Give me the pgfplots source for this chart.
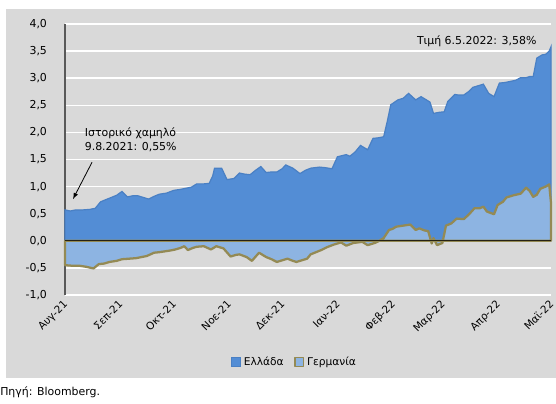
\documentclass[border=0pt]{standalone}
\usepackage{pgfplots}
\pgfplotsset{compat=1.18}
\usepackage{pgfplotstable}
\usepackage{fontspec}
\setmainfont{DejaVu Sans}
\definecolor{bg}{HTML}{D9D9D9}
\definecolor{grc}{HTML}{538DD5}
\definecolor{grcedge}{HTML}{4A80C4}
\definecolor{ger}{HTML}{8DB4E2}
\definecolor{gerline}{HTML}{948A54}
\definecolor{axisgray}{HTML}{595959}

\pgfplotstableread{
x y
0 0.57
3 0.55
6 0.57
10 0.57
14 0.58
17 0.60
20 0.72
23 0.76
26 0.80
29 0.84
32 0.91
35 0.81
38 0.83
41 0.83
44 0.80
47 0.77
50 0.82
53 0.86
57 0.88
61 0.93
65 0.95
68 0.97
71 0.99
74 1.05
78 1.05
81 1.06
83 1.20
84 1.34
88 1.34
91 1.13
95 1.15
98 1.25
101 1.23
104 1.22
107 1.30
110 1.37
113 1.26
116 1.27
119 1.27
122 1.33
124 1.40
128 1.34
132 1.24
135 1.30
138 1.34
143 1.36
146 1.35
150 1.33
153 1.55
158 1.59
160 1.56
163 1.64
166 1.76
170 1.68
173 1.89
176 1.90
179 1.92
181 2.20
183 2.51
187 2.60
190 2.63
193 2.72
197 2.60
200 2.66
203 2.60
205 2.56
207 2.35
210 2.37
213 2.38
215 2.57
219 2.70
221 2.69
224 2.69
227 2.76
229 2.83
232 2.86
235 2.89
238 2.72
241 2.66
244 2.91
247 2.92
250 2.94
253 2.96
256 3.01
259 3.01
261 3.03
263 3.03
265 3.37
268 3.43
270 3.44
272 3.50
273 3.58
}\greece

\pgfplotstableread{
x y
0 -0.45
4 -0.46
8 -0.46
12 -0.48
16 -0.51
19 -0.43
22 -0.42
25 -0.39
29 -0.37
32 -0.34
36 -0.33
40 -0.32
43 -0.30
46 -0.28
50 -0.22
53 -0.21
55 -0.20
59 -0.18
62 -0.16
65 -0.13
67 -0.10
69 -0.17
72 -0.13
74 -0.11
78 -0.10
82 -0.16
85 -0.10
89 -0.14
93 -0.29
96 -0.26
98 -0.25
102 -0.30
105 -0.37
109 -0.22
113 -0.30
116 -0.34
119 -0.39
122 -0.36
125 -0.33
128 -0.37
130 -0.39
133 -0.36
136 -0.33
138 -0.25
141 -0.21
144 -0.17
147 -0.12
151 -0.07
155 -0.03
158 -0.09
162 -0.04
167 -0.02
170 -0.08
174 -0.04
176 -0.01
179 0.05
182 0.20
184 0.22
186 0.26
190 0.28
194 0.30
197 0.20
199 0.23
202 0.19
204 0.18
206 -0.05
207 0.05
209 -0.08
212 -0.04
214 0.28
217 0.32
220 0.41
224 0.40
227 0.49
230 0.60
233 0.60
235 0.63
237 0.54
241 0.49
243 0.66
246 0.72
248 0.80
252 0.84
256 0.87
259 0.98
261 0.92
263 0.81
265 0.85
267 0.96
270 1.00
272 1.04
273 0.70
}\germany

\begin{document}
\begin{tikzpicture}[x=0.75pt,y=0.75pt]
\useasboundingbox (0,0) rectangle (556,403);
\fill[white] (0,0) rectangle (556,403);
\fill[bg] (6,25) rectangle (556,394);
\node[anchor=west, inner sep=0pt, font=\fontsize{8.2}{9}\selectfont] at (0,11) {Πηγή: Bloomberg.};
\begin{axis}[
  at={(48.75pt,81pt)}, anchor=south west,
  scale only axis, width=364.5pt, height=203.25pt,
  xmin=0, xmax=273, ymin=-1, ymax=4,
  axis lines*=left,
  x axis line style={draw=none},
  y axis line style={draw=axisgray, line width=1pt},
  major tick length=0pt,
  ytick={-1,-0.5,...,4},
  xtick={0,31,61,92,122,153,184,212,243,273},
  xticklabels={Αυγ-21,Σεπ-21,Οκτ-21,Νοε-21,Δεκ-21,Ιαν-22,Φεβ-22,Μαρ-22,Απρ-22,Μαϊ-22},
  xticklabel style={rotate=45, anchor=north east, font=\fontsize{7.8}{9}\selectfont, inner sep=1pt, xshift=-2.5pt},
  yticklabel style={font=\fontsize{8.2}{9}\selectfont, xshift=-10pt},
  /pgf/number format/.cd, use comma, fixed, fixed zerofill, precision=1, assume math mode=true,
  /pgfplots/.cd,
  ymajorgrids, grid style={white, line width=1.1pt},
  clip=false,
  legend style={at={(0.473,-0.247)}, anchor=center, draw=none, fill=none,
    font=\fontsize{8}{9}\selectfont, legend columns=2,
    /tikz/every even column/.append style={column sep=6pt}},
  legend image code/.code={\draw[#1, line width=0.9pt] (0pt,-3.3pt) rectangle (6.6pt,3.3pt);},
]
\addplot[fill=grc, draw=grcedge, line width=0.9pt] table[x=x,y=y] {\greece} \closedcycle;
\addlegendentry{Ελλάδα}
\addplot[fill=ger, draw=gerline, line width=1.7pt, line join=round] table[x=x,y=y] {\germany} \closedcycle;
\addlegendentry{Γερμανία}
\draw[black!75!gerline, line width=1pt] (axis cs:0,0) -- (axis cs:273,0);
\node[anchor=west, align=left, font=\fontsize{8.2}{10.5}\selectfont, inner sep=0pt] at (axis cs:11,1.86) {Ιστορικό χαμηλό\\9.8.2021: 0,55\%};
\draw[-latex, line width=0.6pt] (axis cs:15.2,1.45) -- (axis cs:4.5,0.77);
\node[anchor=east, font=\fontsize{8.2}{10}\selectfont, inner sep=0pt] at (axis cs:265,3.69) {Τιμή 6.5.2022: 3,58\%};
\end{axis}
\end{tikzpicture}
\end{document}
